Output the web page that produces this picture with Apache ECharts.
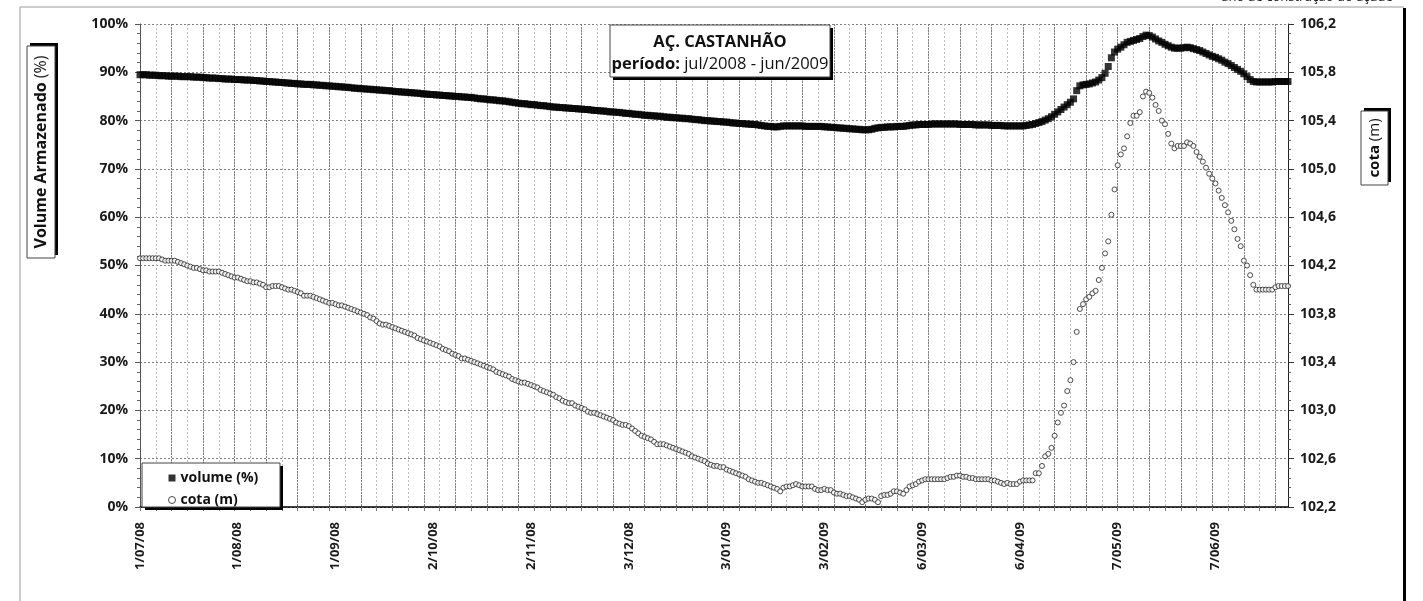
<!DOCTYPE html>
<html><head><meta charset="utf-8">
<script src="https://cdn.jsdelivr.net/npm/echarts@6/dist/echarts.min.js"></script>
<style>html,body{margin:0;padding:0;background:#fff}#c{width:1423px;height:601px}</style>
</head><body><div id="c"></div>
<script>
const TICK_LABELS = ['1/07/08','1/08/08','1/09/08','2/10/08','2/11/08','3/12/08','3/01/09','3/02/09','6/03/09','6/04/09','7/05/09','7/06/09'];

// volume (%) daily, 1/07/2008 .. 30/06/2009
const VOLUME = [
89.5,89.5,89.5,89.4,89.4,89.4,89.3,89.3,89.3,89.2,
89.2,89.2,89.2,89.1,89.1,89.1,89.1,89.0,89.0,89.0,
88.9,88.9,88.8,88.8,88.8,88.7,88.7,88.6,88.6,88.6,
88.5,88.5,88.5,88.4,88.4,88.4,88.3,88.3,88.2,88.2,
88.1,88.1,88.0,88.0,87.9,87.9,87.8,87.8,87.7,87.7,
87.6,87.6,87.5,87.5,87.5,87.4,87.4,87.3,87.3,87.2,
87.2,87.1,87.1,87.0,87.0,86.9,86.9,86.8,86.7,86.7,
86.6,86.6,86.5,86.5,86.4,86.4,86.3,86.3,86.2,86.2,
86.1,86.0,86.0,85.9,85.9,85.8,85.8,85.7,85.7,85.6,
85.5,85.5,85.4,85.4,85.3,85.3,85.2,85.2,85.1,85.1,
85.0,85.0,84.9,84.9,84.8,84.8,84.7,84.6,84.5,84.5,
84.4,84.3,84.3,84.2,84.1,84.1,84.0,83.9,83.8,83.7,
83.6,83.5,83.5,83.4,83.3,83.3,83.2,83.1,83.1,83.0,
82.9,82.8,82.8,82.7,82.7,82.6,82.6,82.5,82.5,82.4,
82.4,82.3,82.3,82.2,82.1,82.1,82.0,82.0,81.9,81.8,
81.8,81.7,81.7,81.6,81.5,81.5,81.4,81.3,81.3,81.2,
81.1,81.1,81.0,81.0,80.9,80.9,80.8,80.7,80.7,80.6,
80.6,80.5,80.5,80.4,80.4,80.3,80.2,80.2,80.1,80.0,
80.0,79.9,79.9,79.8,79.8,79.7,79.7,79.6,79.5,79.5,
79.4,79.4,79.3,79.3,79.2,79.2,79.1,79.0,78.9,78.8,
78.8,78.7,78.7,78.8,78.9,78.9,78.9,78.9,78.9,78.9,
78.9,78.8,78.8,78.8,78.8,78.8,78.8,78.7,78.7,78.6,
78.6,78.5,78.5,78.4,78.4,78.3,78.3,78.2,78.2,78.1,
78.1,78.1,78.2,78.4,78.5,78.6,78.6,78.7,78.7,78.7,
78.8,78.8,78.8,78.9,79.0,79.1,79.1,79.2,79.2,79.2,
79.2,79.3,79.3,79.3,79.3,79.3,79.3,79.3,79.3,79.3,
79.2,79.2,79.2,79.2,79.2,79.1,79.1,79.1,79.1,79.1,
79.0,79.0,79.0,79.0,78.9,78.9,78.9,78.9,78.9,78.9,
78.9,79.0,79.1,79.2,79.4,79.6,79.8,80.1,80.4,80.8,
81.3,81.8,82.3,82.8,83.3,83.8,84.5,86.2,87.2,87.4,
87.5,87.6,87.8,88.0,88.4,88.9,89.8,91.2,93.0,94.2,
94.8,95.2,95.7,96.2,96.4,96.6,96.8,97.0,97.4,97.7,
97.6,97.3,96.9,96.5,96.2,95.8,95.5,95.2,95.0,95.0,
95.0,95.1,95.2,95.1,94.9,94.7,94.5,94.2,93.9,93.6,
93.3,93.1,92.8,92.5,92.1,91.8,91.4,91.0,90.6,90.2,
89.7,89.1,88.5,88.1,88.0,88.0,88.0,88.0,88.0,88.0,
88.1,88.1,88.1,88.1,88.1
];

// cota (m) daily, 1/07/2008 .. 30/06/2009
const COTA = [
104.26,104.26,104.26,104.26,104.26,104.26,104.26,104.25,104.24,104.24,
104.24,104.24,104.23,104.22,104.21,104.20,104.19,104.18,104.18,104.17,
104.16,104.16,104.15,104.15,104.15,104.15,104.14,104.13,104.12,104.11,
104.10,104.10,104.09,104.08,104.07,104.07,104.06,104.06,104.05,104.04,
104.02,104.02,104.03,104.03,104.03,104.02,104.01,104.00,104.00,103.99,
103.98,103.97,103.95,103.95,103.95,103.94,103.93,103.92,103.91,103.90,
103.89,103.89,103.88,103.87,103.87,103.86,103.85,103.84,103.83,103.82,
103.81,103.80,103.79,103.77,103.76,103.74,103.72,103.71,103.71,103.70,
103.69,103.68,103.67,103.66,103.65,103.64,103.63,103.62,103.60,103.59,
103.58,103.57,103.56,103.55,103.54,103.53,103.51,103.50,103.49,103.47,
103.46,103.45,103.43,103.43,103.42,103.41,103.40,103.39,103.38,103.37,
103.36,103.35,103.34,103.32,103.31,103.30,103.29,103.28,103.26,103.25,
103.24,103.23,103.23,103.22,103.21,103.20,103.19,103.17,103.16,103.15,
103.14,103.13,103.11,103.10,103.08,103.07,103.06,103.06,103.04,103.03,
103.02,103.01,102.99,102.98,102.98,102.97,102.96,102.95,102.94,102.93,
102.92,102.90,102.89,102.88,102.88,102.87,102.85,102.83,102.81,102.79,
102.78,102.77,102.76,102.74,102.72,102.72,102.72,102.71,102.70,102.69,
102.68,102.67,102.66,102.65,102.64,102.62,102.61,102.60,102.59,102.58,
102.56,102.55,102.54,102.54,102.53,102.53,102.51,102.50,102.49,102.48,
102.47,102.46,102.45,102.43,102.42,102.41,102.40,102.40,102.39,102.38,
102.37,102.36,102.35,102.33,102.36,102.37,102.37,102.38,102.39,102.38,
102.37,102.37,102.37,102.37,102.35,102.34,102.34,102.35,102.34,102.34,
102.32,102.31,102.31,102.30,102.29,102.29,102.28,102.27,102.26,102.24,
102.26,102.27,102.27,102.26,102.24,102.29,102.30,102.30,102.31,102.33,
102.33,102.32,102.31,102.34,102.37,102.38,102.39,102.41,102.42,102.43,
102.43,102.43,102.43,102.43,102.43,102.43,102.44,102.45,102.45,102.46,
102.46,102.45,102.45,102.44,102.44,102.43,102.43,102.43,102.43,102.43,
102.42,102.42,102.41,102.40,102.39,102.40,102.39,102.39,102.39,102.41,
102.42,102.42,102.42,102.42,102.48,102.48,102.54,102.62,102.64,102.69,
102.79,102.90,102.98,103.04,103.16,103.25,103.40,103.65,103.84,103.88,
103.92,103.94,103.97,103.99,104.08,104.18,104.30,104.40,104.62,104.83,
105.03,105.12,105.17,105.27,105.38,105.44,105.44,105.47,105.60,105.64,
105.63,105.59,105.53,105.48,105.40,105.37,105.29,105.21,105.17,105.19,
105.19,105.19,105.22,105.21,105.19,105.14,105.10,105.06,105.01,104.96,
104.92,104.88,104.82,104.76,104.70,104.64,104.57,104.50,104.42,104.36,
104.24,104.20,104.12,104.04,104.00,104.00,104.00,104.00,104.00,104.00,
104.02,104.03,104.03,104.03,104.03
];

const DAYS = [];
for (let i = 0; i < VOLUME.length; i++) {
  const d = new Date(2008, 6, 1 + i);
  DAYS.push(d.getDate() + '/' + String(d.getMonth() + 1).padStart(2, '0') + '/' + String(d.getFullYear()).slice(2));
}

const FONT = "'Open Sans', 'Noto Sans', sans-serif";
const chart = echarts.init(document.getElementById('c'), null, {renderer: 'canvas'});

function shadowBox(x, y, w, h, dx, dy) {
  return [
    {type: 'rect', z: 10, shape: {x: x + dx, y: y + dy, width: w, height: h}, style: {fill: '#000'}},
    {type: 'rect', z: 11, shape: {x: x, y: y, width: w, height: h}, style: {fill: '#fff', stroke: '#444', lineWidth: 1}}
  ];
}

const option = {
  animation: false,
  backgroundColor: '#fff',
  textStyle: {fontFamily: FONT},
  grid: {left: 140, right: 135, top: 24, bottom: 94, containLabel: false},
  xAxis: [{
    type: 'category',
    data: DAYS,
    boundaryGap: false,
    axisLine: {show: true, lineStyle: {color: '#000', width: 1.5}},
    axisTick: {show: true, interval: 4, length: 4, lineStyle: {color: '#777'}},
    axisLabel: {
      interval: 30, rotate: 90, margin: 15,
      fontFamily: FONT, fontWeight: 'bold', fontSize: 13, color: '#1a1a1a',
      formatter: v => TICK_LABELS.includes(v) ? v : ''
    },
    splitLine: {show: true, interval: 4, lineStyle: {color: '#bdbdbd', type: [2, 2], width: 1}}
  }, {
    type: 'category',
    data: DAYS,
    boundaryGap: false,
    position: 'bottom',
    axisLine: {show: false}, axisTick: {show: false}, axisLabel: {show: false},
    splitLine: {show: true, interval: 9, lineStyle: {color: '#808080', type: [2, 1], width: 1}}
  }],
  yAxis: [{
    type: 'value', position: 'left', min: 0, max: 100, interval: 10,
    axisLine: {show: true, lineStyle: {color: '#555', width: 1}},
    axisTick: {show: true, length: 5, lineStyle: {color: '#555'}},
    minorTick: {show: true, splitNumber: 5, length: 3, lineStyle: {color: '#666'}},
    axisLabel: {margin: 12, fontFamily: FONT, fontWeight: 'bold', fontSize: 14, color: '#1a1a1a', formatter: '{value}%'},
    splitLine: {show: true, lineStyle: {color: '#808080', type: [2, 2], width: 1}}
  }, {
    type: 'value', position: 'right', min: 102.2, max: 106.2, interval: 0.4,
    axisLine: {show: true, lineStyle: {color: '#222', width: 1}},
    axisTick: {show: true, length: 6, lineStyle: {color: '#333'}},
    minorTick: {show: true, splitNumber: 5, length: 3, lineStyle: {color: '#555'}},
    axisLabel: {margin: 12, fontFamily: FONT, fontWeight: 'bold', fontSize: 14, color: '#1a1a1a',
      formatter: v => v.toFixed(1).replace('.', ',')},
    splitLine: {show: false}
  }],
  legend: {
    orient: 'vertical', left: 163, top: 464, z: 20,
    itemWidth: 7, itemHeight: 7, itemGap: 4,
    textStyle: {fontFamily: FONT, fontWeight: 'bold', fontSize: 14, color: '#111', lineHeight: 18},
    data: [
      {name: 'volume (%)', icon: 'rect', itemStyle: {color: '#000'}},
      {name: 'cota (m)', icon: 'circle', itemStyle: {color: '#fff', borderColor: '#222', borderWidth: 1}}
    ],
    selectedMode: false
  },
  series: [{
    name: 'volume (%)', type: 'scatter', xAxisIndex: 0, yAxisIndex: 0,
    data: VOLUME, symbol: 'rect', symbolSize: 7,
    itemStyle: {color: '#000'}, emphasis: {disabled: true}, silent: true
  }, {
    name: 'cota (m)', type: 'scatter', xAxisIndex: 0, yAxisIndex: 1,
    data: COTA, symbol: 'circle', symbolSize: 5,
    itemStyle: {color: '#fff', borderColor: '#222', borderWidth: 1}, emphasis: {disabled: true}, silent: true
  }],
  graphic: [
    // outer frame
    {type: 'line', z: 1, shape: {x1: 20, y1: 7, x2: 1404, y2: 7}, style: {stroke: '#bbb', lineWidth: 1.5}},
    {type: 'line', z: 1, shape: {x1: 20, y1: 7, x2: 20, y2: 601}, style: {stroke: '#bbb', lineWidth: 1.5}},
    {type: 'rect', z: 1, shape: {x: 1403, y: 8, width: 3, height: 600}, style: {fill: '#000'}},
    {type: 'text', z: 12, x: 1307, y: 4, style: {text: 'ano de construção do açude', fontFamily: FONT, fontSize: 13, fill: '#222', align: 'center', verticalAlign: 'bottom'}},
    // title box
    ...shadowBox(610, 25, 220, 52, 3, 3),
    {type: 'text', z: 12, x: 720, y: 42, style: {text: 'AÇ. CASTANHÃO', fontFamily: FONT, fontWeight: 'bold', fontSize: 16.5, fill: '#111', align: 'center', verticalAlign: 'middle'}},
    {type: 'text', z: 12, x: 720, y: 64, style: {
      text: '{b|período:}{n| jul/2008 - jun/2009}', align: 'center', verticalAlign: 'middle',
      rich: {b: {fontFamily: FONT, fontWeight: 'bold', fontSize: 16.5, fill: '#111'}, n: {fontFamily: FONT, fontSize: 16.5, fill: '#111'}}
    }},
    // legend box
    ...shadowBox(142, 463, 138, 44, 3, 3),
    // left axis title
    ...shadowBox(27, 46, 28, 212, 3, -3),
    {type: 'text', z: 12, x: 41, y: 152, rotation: Math.PI / 2, style: {
      text: '{b|Volume Armazenado}{n| (%)}', align: 'center', verticalAlign: 'middle',
      rich: {b: {fontFamily: FONT, fontWeight: 'bold', fontSize: 16, fill: '#111'}, n: {fontFamily: FONT, fontSize: 16, fill: '#111'}}
    }},
    // right axis title
    ...shadowBox(1361, 111, 27, 74, 3, -3),
    {type: 'text', z: 12, x: 1375, y: 148, rotation: Math.PI / 2, style: {
      text: '{b|cota}{n| (m)}', align: 'center', verticalAlign: 'middle',
      rich: {b: {fontFamily: FONT, fontWeight: 'bold', fontSize: 15, fill: '#111'}, n: {fontFamily: FONT, fontSize: 15, fill: '#111'}}
    }}
  ]
};
chart.setOption(option);
</script>
</body></html>
